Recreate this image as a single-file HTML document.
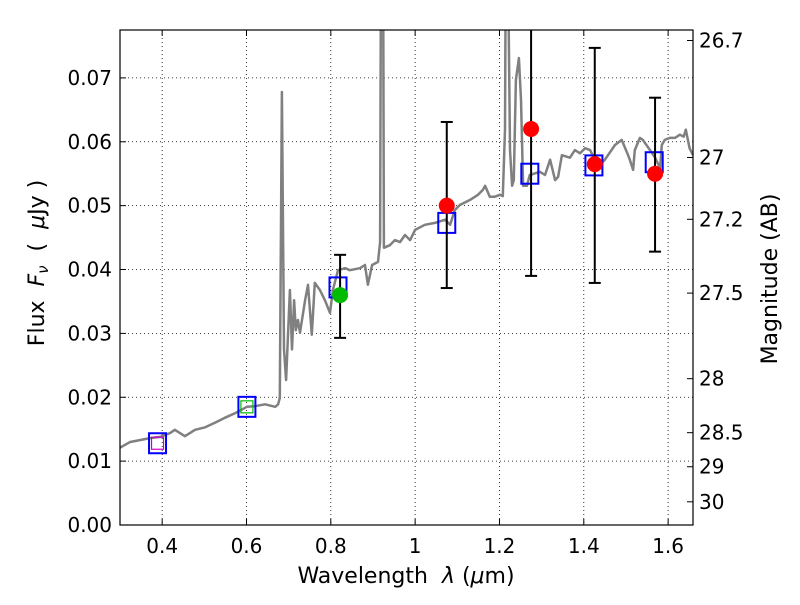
<!DOCTYPE html>
<html><head><meta charset="utf-8"><style>
body{margin:0;background:#fff;}
svg text{font-family:"DejaVu Sans","Liberation Sans",sans-serif;}
</style></head><body>
<svg id="chart" width="800" height="600" viewBox="0 0 800 600" xmlns="http://www.w3.org/2000/svg">
<defs><clipPath id="clip"><rect x="120" y="30" width="573" height="495"/></clipPath></defs>
<rect width="800" height="600" fill="#fff"/>
<g id="grid"></g>
<g id="spec" clip-path="url(#clip)"></g>
<g id="marks" clip-path="url(#clip)"></g>
<rect x="120" y="30" width="573" height="495" fill="none" stroke="#000" stroke-width="1.2"/>
<g id="axes"></g>
<text x="406" y="583" font-size="22" text-anchor="middle" xml:space="preserve">Wavelength  <tspan font-style="italic">λ</tspan> (<tspan font-style="italic">μ</tspan>m)</text>
<text transform="translate(44,263) rotate(-90)" font-size="22" text-anchor="middle" xml:space="preserve">Flux  <tspan font-style="italic">F<tspan font-size="15" dy="4">ν</tspan></tspan><tspan dy="-4">  (  </tspan><tspan font-style="italic">μ</tspan>Jy )</text>
<text transform="translate(777,279) rotate(-90)" font-size="22" text-anchor="middle">Magnitude (AB)</text>
</svg>
<script>
const xTicks=[0.4,0.6,0.8,1.0,1.2,1.4,1.6];
const xTickLabels=["0.4","0.6","0.8","1","1.2","1.4","1.6"];
const yTicks=[0,0.01,0.02,0.03,0.04,0.05,0.06,0.07];
const yTickLabels=["0.00","0.01","0.02","0.03","0.04","0.05","0.06","0.07"];
const magTicks=[26.7,27,27.2,27.5,28,28.5,29,30];
const magTickLabels=["26.7","27","27.2","27.5","28","28.5","29","30"];
const specWl=[0.300,0.324,0.347,0.371,0.395,0.419,0.430,0.454,0.478,0.502,0.525,0.549,0.573,0.601,0.620,0.644,0.668,0.675,0.679,0.684,0.689,0.694,0.698,0.703,0.708,0.713,0.717,0.722,0.727,0.739,0.746,0.755,0.762,0.774,0.786,0.798,0.805,0.817,0.834,0.845,0.869,0.881,0.888,0.898,0.912,0.917,0.919,0.924,0.926,0.940,0.952,0.964,0.976,0.988,1.000,1.023,1.047,1.071,1.083,1.094,1.106,1.130,1.149,1.161,1.166,1.177,1.189,1.201,1.208,1.213,1.215,1.220,1.225,1.230,1.234,1.239,1.246,1.251,1.256,1.265,1.272,1.296,1.308,1.320,1.332,1.339,1.348,1.367,1.379,1.391,1.403,1.415,1.426,1.438,1.450,1.474,1.490,1.505,1.509,1.517,1.521,1.533,1.540,1.557,1.569,1.581,1.585,1.592,1.604,1.616,1.628,1.637,1.642,1.651,1.659];
const specFlux=[0.0121,0.0130,0.0133,0.0136,0.0138,0.0144,0.0149,0.0139,0.0149,0.0153,0.0160,0.0168,0.0175,0.0185,0.0186,0.0189,0.0185,0.0189,0.0199,0.0678,0.0275,0.0227,0.0290,0.0368,0.0275,0.0352,0.0305,0.0321,0.0301,0.0352,0.0376,0.0298,0.0379,0.0368,0.0352,0.0332,0.0368,0.0399,0.0402,0.0399,0.0402,0.0407,0.0376,0.0407,0.0412,0.0443,0.090,0.090,0.0434,0.0438,0.0446,0.0443,0.0454,0.0446,0.0462,0.0470,0.0473,0.0478,0.0470,0.0493,0.0501,0.0509,0.0517,0.0525,0.0531,0.0514,0.0514,0.0517,0.0515,0.0619,0.090,0.090,0.0587,0.0531,0.0540,0.0697,0.0731,0.0666,0.0531,0.0531,0.0548,0.0553,0.0548,0.0572,0.0540,0.0545,0.0579,0.0575,0.0587,0.0582,0.0590,0.0587,0.0572,0.0564,0.0572,0.0595,0.0603,0.0579,0.0572,0.0556,0.0587,0.0606,0.0603,0.0587,0.0575,0.0559,0.0595,0.0603,0.0606,0.0606,0.0611,0.0608,0.0619,0.0590,0.0579];
const obsWl=[1.075,1.275,1.426,1.569];
const obsFlux=[0.050,0.062,0.0565,0.055];
const obsLo=[0.0371,0.039,0.0379,0.0428];
const obsHi=[0.0631,0.085,0.0747,0.0669];
const nirWl=[0.822];
const nirFlux=[0.036];
const nirLo=[0.0293];
const nirHi=[0.0423];
const modelWl=[0.389,0.601,0.817,1.075,1.272,1.424,1.567];
const modelFlux=[0.0128,0.0185,0.0372,0.0473,0.0550,0.0563,0.0568];
const innerWl=[0.389,0.601];
const innerFlux=[0.0128,0.0185];
const innerColor=["#cc00cc","#00bb00"];

const X0=120,X1=693,Y0=525,Y1=30,xmin=0.3,xmax=1.659,ymin=0,ymax=0.0775;
const sx=v=>X0+(v-xmin)/(xmax-xmin)*(X1-X0);
const sy=v=>Y0-(v-ymin)/(ymax-ymin)*(Y0-Y1);
const magToFlux=m=>Math.pow(10,(23.9-m)/2.5);
const NS="http://www.w3.org/2000/svg";
function mk(tag,attrs,parent){const e=document.createElementNS(NS,tag);for(const k in attrs)e.setAttribute(k,attrs[k]);parent.appendChild(e);return e;}
const grid=document.getElementById('grid'),axes=document.getElementById('axes'),spec=document.getElementById('spec'),marks=document.getElementById('marks');
xTicks.forEach((t,i)=>{const x=sx(t);
 let l=mk('line',{x1:x,x2:x,y1:Y1,y2:Y0,stroke:'#000','stroke-width':0.8,'stroke-dasharray':'1,3'},grid);
 
 
 mk('line',{x1:x,x2:x,y1:Y0,y2:Y0-6,stroke:'#000'},axes);
 mk('line',{x1:x,x2:x,y1:Y1,y2:Y1+6,stroke:'#000'},axes);
 let tx=mk('text',{x:x,y:553,'font-size':20,'text-anchor':'middle'},axes);tx.textContent=xTickLabels[i];
 
 });
yTicks.forEach((t,i)=>{const y=sy(t);
 let l=mk('line',{x1:X0,x2:X1,y1:y,y2:y,stroke:'#000','stroke-width':0.8,'stroke-dasharray':'1,3'},grid);
 
 
 mk('line',{x1:X0,x2:X0+6,y1:y,y2:y,stroke:'#000'},axes);
 let tx=mk('text',{x:112,y:y+7,'font-size':20,'text-anchor':'end'},axes);tx.textContent=yTickLabels[i];
 
 });
magTicks.forEach((m,i)=>{const y=sy(magToFlux(m));
 mk('line',{x1:X1,x2:X1-6,y1:y,y2:y,stroke:'#000'},axes);
 let tx=mk('text',{x:699,y:y+7,'font-size':20,'text-anchor':'start'},axes);tx.textContent=magTickLabels[i];
 
 });
let d=specWl.map((w,i)=>(i?'L':'M')+sx(w).toFixed(1)+','+sy(specFlux[i]).toFixed(1)).join('');
let sp=mk('path',{d:d,fill:'none',stroke:'#808080','stroke-width':2.5,'stroke-linejoin':'round'},spec);


function errbar(w,lo,hi){const x=sx(w);
 mk('line',{x1:x,x2:x,y1:sy(lo),y2:sy(hi),stroke:'#000','stroke-width':2},marks);
 mk('line',{x1:x-6,x2:x+6,y1:sy(lo),y2:sy(lo),stroke:'#000','stroke-width':2},marks);
 mk('line',{x1:x-6,x2:x+6,y1:sy(hi),y2:sy(hi),stroke:'#000','stroke-width':2},marks);}
modelWl.forEach((w,i)=>{let r=mk('rect',{x:sx(w)-8.5,y:sy(modelFlux[i])-10,width:17,height:20,fill:'none',stroke:'#0000ff','stroke-width':2},marks);
 
 });
innerWl.forEach((w,i)=>{let r=mk('rect',{x:sx(w)-6,y:sy(innerFlux[i])-6,width:12,height:12,fill:'none',stroke:innerColor[i],'stroke-width':1.2},marks);
 
 });
nirWl.forEach((w,i)=>{errbar(w,nirLo[i],nirHi[i]);
 let c=mk('circle',{cx:sx(w),cy:sy(nirFlux[i]),r:8,fill:'#00bb00'},marks);
 
 });
obsWl.forEach((w,i)=>{errbar(w,obsLo[i],obsHi[i]);
 let c=mk('circle',{cx:sx(w),cy:sy(obsFlux[i]),r:8,fill:'#ff0000'},marks);
 
 });
</script>
</body></html>
